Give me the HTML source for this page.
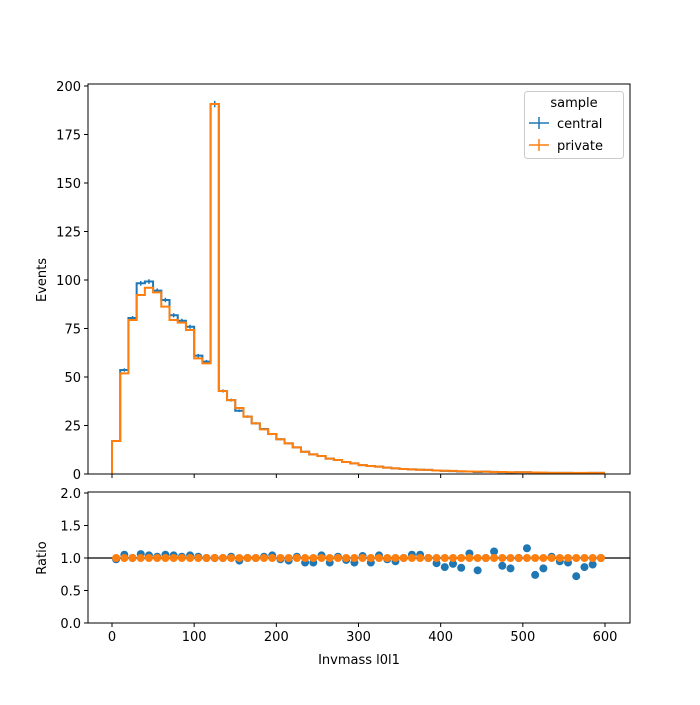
<!DOCTYPE html>
<html><head><meta charset="utf-8"><style>
body{margin:0;background:#fff}
svg text{font-family:"DejaVu Sans","Liberation Sans",sans-serif;font-size:13px;fill:#000}
</style></head><body>
<svg id="chart" width="700" height="700" xmlns="http://www.w3.org/2000/svg">
<rect width="700" height="700" fill="#fff"/>
<g id="gtop"></g>
<g id="gbot"></g>
<text x="46" y="280" transform="rotate(-90 46 280)" text-anchor="middle">Events</text>
<text x="46" y="558" transform="rotate(-90 46 558)" text-anchor="middle">Ratio</text>
<text x="359" y="664" text-anchor="middle">Invmass l0l1</text>
<g>
<rect x="524.5" y="91.5" width="99" height="67" rx="3" fill="#fff" fill-opacity="0.8" stroke="#ccc"/>
<text x="574" y="107" text-anchor="middle">sample</text>
<g>
<line x1="529" y1="123" x2="549" y2="123" stroke="#1f77b4" stroke-width="1.5"/>
<line x1="539" y1="117" x2="539" y2="129" stroke="#1f77b4" stroke-width="1.5"/>
<text x="557" y="128">central</text></g>
<g>
<line x1="529" y1="145" x2="549" y2="145" stroke="#ff7f0e" stroke-width="1.5"/>
<line x1="539" y1="139" x2="539" y2="151" stroke="#ff7f0e" stroke-width="1.5"/>
<text x="557" y="150">private</text></g>
</g>
</svg>
<script>
const binWidth = 10;
const central = [17,53.6,80.4,98.3,99.2,94.5,89.7,81.8,79,75.9,61,57.9,190.7,42.8,38.1,32.6,29.6,26.1,23.2,20.6,17.9,15.8,13.7,11.5,10.1,9.3,7.9,7.2,6.2,5.5,4.6,4.1,3.8,3.3,2.9,2.6,2.4,2.2,2.1,1.8,1.6,1.5,1.3,1.3,1.0,1.2,1.1,0.9,0.8,0.9,0.9,0.6,0.6,0.6,0.6,0.6,0.45,0.5,0.55,0.6];
const privateVals = [17,51.9,79.4,92.3,96,93.6,86.3,79.4,78,74.2,59.6,57,190.7,42.8,38.1,34,29.6,26.1,23,20.6,17.9,15.8,13.7,11.5,10.1,9.3,7.9,7.2,6.2,5.5,4.6,4.1,3.8,3.3,2.9,2.6,2.4,2.2,2.1,1.8,1.7,1.6,1.4,1.3,1.2,1.2,1.0,1.0,0.9,0.9,0.9,0.8,0.7,0.6,0.6,0.6,0.6,0.6,0.6,0.6];
const ratioCentral = [0.98,1.05,1.0,1.06,1.04,1.02,1.05,1.04,1.02,1.04,1.02,1.0,1.0,1.0,1.02,0.96,1.0,1.0,1.02,1.04,0.98,0.96,1.02,0.93,0.93,1.04,0.93,1.02,0.97,0.93,1.03,0.93,1.04,0.98,0.95,1.0,1.05,1.05,1.0,0.92,0.86,0.91,0.85,1.07,0.81,1.0,1.1,0.88,0.84,1.0,1.15,0.74,0.84,1.02,0.95,0.93,0.72,0.86,0.9,1.0];
const ratioPrivate = [1,1,1,1,1,1,1,1,1,1,1,1,1,1,1,1,1,1,1,1,1,1,1,1,1,1,1,1,1,1,1,1,1,1,1,1,1,1,1,1,1,1,1,1,1,1,1,1,1,1,1,1,1,1,1,1,1,1,1,1];
const xTicks = [0,100,200,300,400,500,600];
const yTicks = [0,25,50,75,100,125,150,175,200];
const rTicks = [0,0.5,1.0,1.5,2.0];

const NS="http://www.w3.org/2000/svg";
const L=88,R=630,T1=84,B1=474,T2=492,B2=623;
const sx=v=>112+v*(493/600);
const sy=v=>474-v*1.94;
const sr=v=>623-v*65;
function mk(parent,tag,attrs){const e=document.createElementNS(NS,tag);for(const k in attrs)e.setAttribute(k,attrs[k]);parent.appendChild(e);return e;}
const gTop=document.getElementById('gtop'),gBot=document.getElementById('gbot');

function step(vals){let d=`M${sx(0)},${sy(0)}`;vals.forEach((v,i)=>{d+=`L${sx(i*binWidth)},${sy(v)}L${sx((i+1)*binWidth)},${sy(v)}`;});return d;}
let p=mk(gTop,'path',{d:step(central),fill:'none',stroke:'#1f77b4','stroke-width':2});


central.forEach((v,i)=>{const cx=sx(i*binWidth+5),e=Math.sqrt(v)*0.12;
 const l=mk(gTop,'line',{x1:cx,x2:cx,y1:sy(v)-e*1.94,y2:sy(v)+e*1.94,stroke:'#1f77b4','stroke-width':1.5});
 
 });
p=mk(gTop,'path',{d:step(privateVals),fill:'none',stroke:'#ff7f0e','stroke-width':2});



mk(gBot,'line',{x1:L,x2:R,y1:sr(1),y2:sr(1),stroke:'#000','stroke-width':1.2});
ratioCentral.forEach((v,i)=>{const c=mk(gBot,'circle',{cx:sx(i*binWidth+5),cy:sr(v),r:4,fill:'#1f77b4'});
 
 });
ratioPrivate.forEach((v,i)=>{const c=mk(gBot,'circle',{cx:sx(i*binWidth+5),cy:sr(v),r:4,fill:'#ff7f0e'});
 
 });

[[gTop,T1,B1],[gBot,T2,B2]].forEach(([g,t,b])=>{
 const r=mk(g,'rect',{x:L,y:t,width:R-L,height:b-t,fill:'none',stroke:'#000','stroke-width':1});
 
 
 xTicks.forEach(v=>{mk(g,'line',{x1:sx(v),x2:sx(v),y1:b,y2:b+4,stroke:'#000'});});
});
xTicks.forEach(v=>{const t=mk(gBot,'text',{x:sx(v),y:B2+18,'text-anchor':'middle'});t.textContent=v;
 
 });
yTicks.forEach(v=>{mk(gTop,'line',{x1:L-4,x2:L,y1:sy(v),y2:sy(v),stroke:'#000'});
 const t=mk(gTop,'text',{x:L-7,y:sy(v)+5,'text-anchor':'end'});t.textContent=v;
 
 });
rTicks.forEach(v=>{mk(gBot,'line',{x1:L-4,x2:L,y1:sr(v),y2:sr(v),stroke:'#000'});
 const t=mk(gBot,'text',{x:L-7,y:sr(v)+5,'text-anchor':'end'});t.textContent=v.toFixed(1);
 
 });
</script>
</body></html>
